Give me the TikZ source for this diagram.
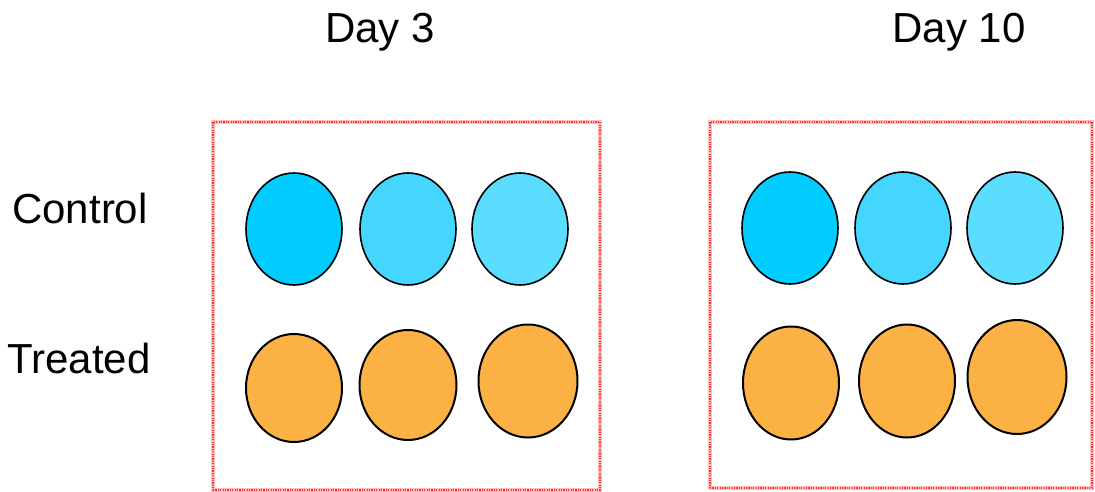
\documentclass[tikz,border=0pt]{standalone}
\usepackage{fontspec}
\setmainfont{Liberation Sans}
\usetikzlibrary{shapes.geometric}
\definecolor{ctrlA}{RGB}{0,204,255}
\definecolor{ctrlB}{RGB}{68,214,255}
\definecolor{ctrlC}{RGB}{90,221,255}
\definecolor{treat}{RGB}{252,177,68}

\begin{document}
\begin{tikzpicture}[x=1pt, y=-1pt,
    every node/.style={font=\fontsize{42}{50}\selectfont},
    plate/.style={rectangle, draw=red!25, line width=4.5pt, inner sep=0pt,
      postaction={draw=red!80, line width=1.6pt, dash pattern=on 1.2pt off 1.2pt}},
    well/.style={ellipse, draw=black, line width=1.6pt, inner sep=0pt, minimum width=96pt, minimum height=112pt}]
  \useasboundingbox (0,0) rectangle (1095,492);
  % labels
  \node[anchor=base] (day3) at (380,43) {Day 3};
  \node[anchor=base] (day10) at (959,43) {Day 10};
  \node[anchor=base] (ctrl) at (80,223) {Control};
  \node[anchor=base] (trt) at (79,373) {Treated};
  % plates
  \node[plate, minimum width=387pt, minimum height=368pt] (plateA) at (406.5,306) {};
  \node[plate, minimum width=382pt, minimum height=366pt] (plateB) at (901,305) {};
  % control wells
  \node[well, fill=ctrlA] (cA1) at (294,229) {};
  \node[well, fill=ctrlB] (cA2) at (408,229) {};
  \node[well, fill=ctrlC] (cA3) at (520,229) {};
  \node[well, fill=ctrlA] (cB1) at (790,228) {};
  \node[well, fill=ctrlB] (cB2) at (903,228) {};
  \node[well, fill=ctrlC] (cB3) at (1015,228) {};
  % treated wells
  \node[well, fill=treat, line width=2pt, minimum height=108pt] (tA1) at (294,388) {};
  \node[well, fill=treat, line width=2pt, minimum width=97pt, minimum height=110pt] (tA2) at (408,385) {};
  \node[well, fill=treat, line width=2pt, minimum width=99pt, minimum height=113pt] (tA3) at (528,381) {};
  \node[well, fill=treat, line width=2pt, minimum height=113pt] (tB1) at (791,383) {};
  \node[well, fill=treat, line width=2pt, minimum height=113pt] (tB2) at (907,381) {};
  \node[well, fill=treat, line width=2pt, minimum width=99pt, minimum height=114pt] (tB3) at (1017,377) {};
\end{tikzpicture}
\end{document}
